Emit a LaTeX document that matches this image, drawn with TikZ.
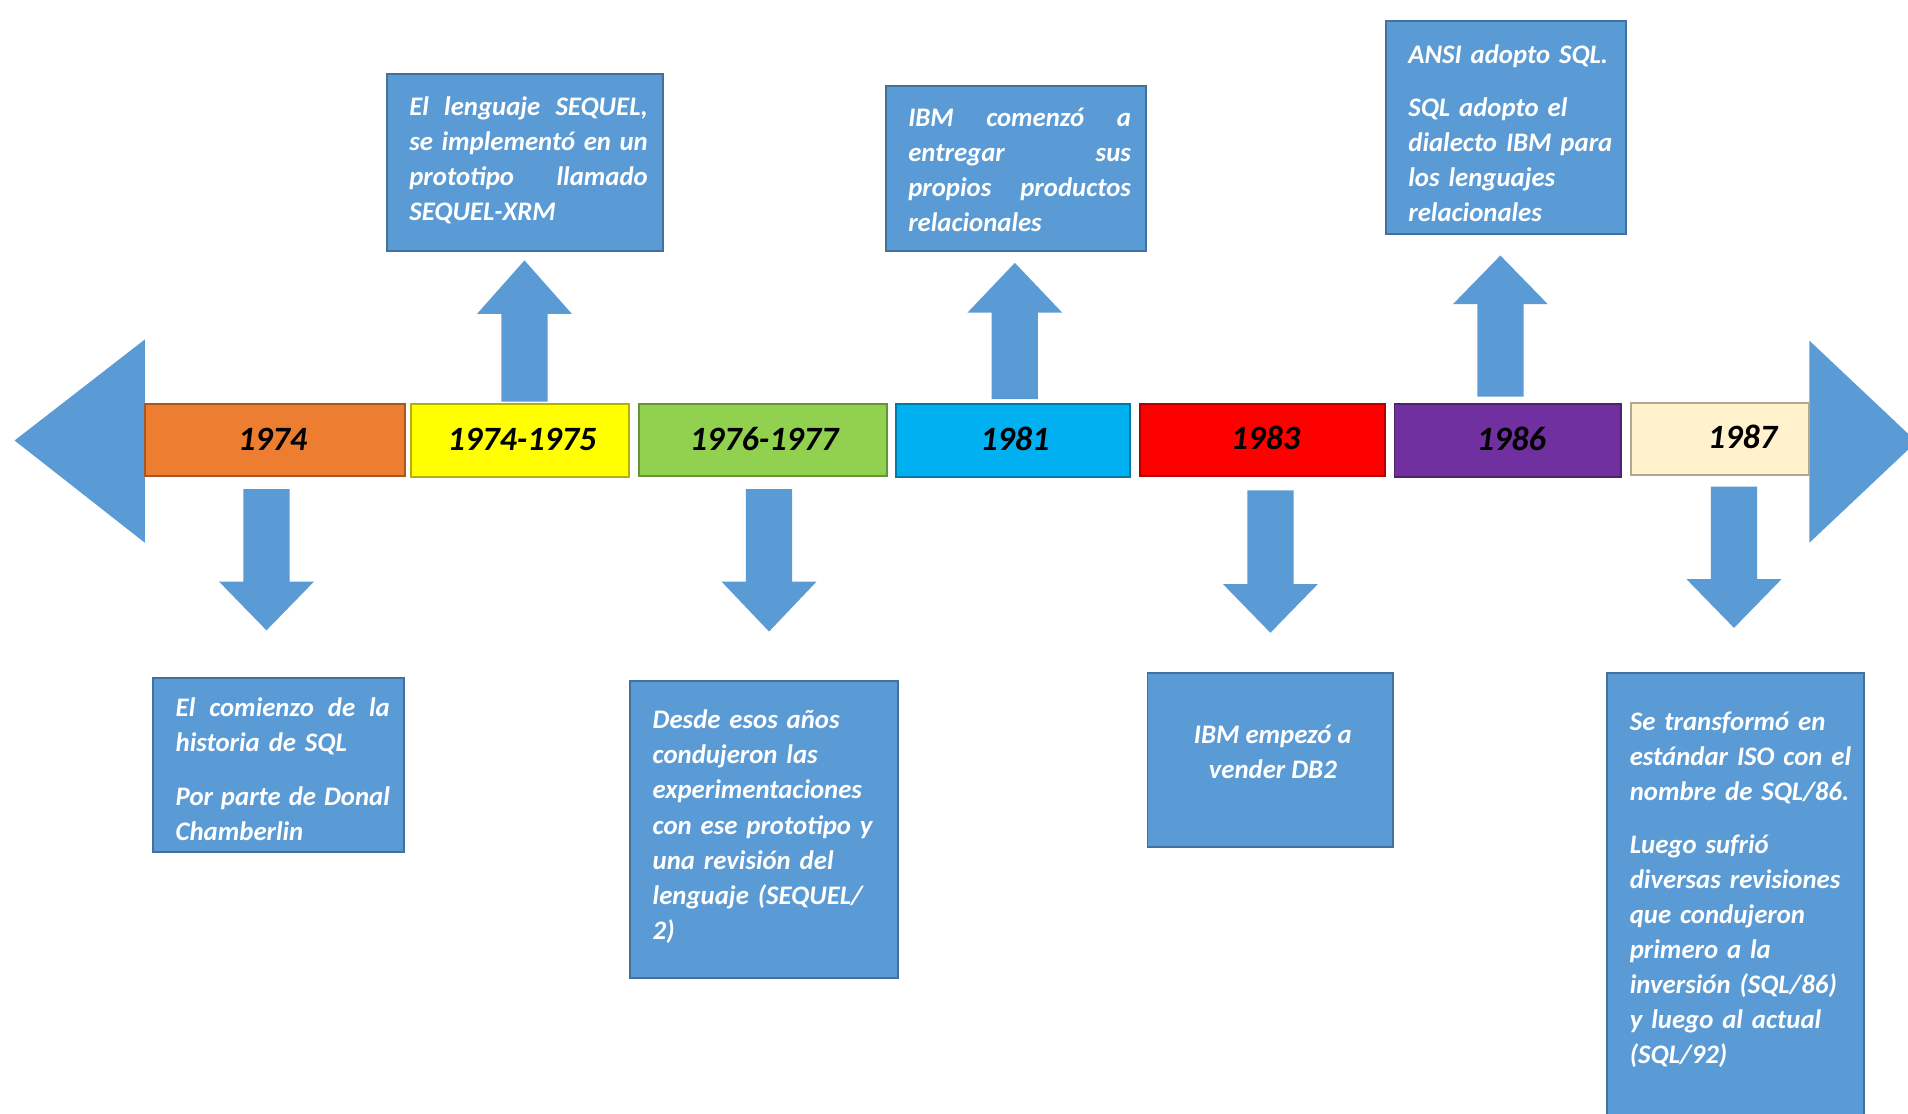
\documentclass[tikz,border=0pt]{standalone}
\usepackage{fontspec}
\setmainfont{Carlito}
\usetikzlibrary{fit}

\definecolor{boxblue}{HTML}{5B9BD5}
\definecolor{boxedge}{HTML}{41719C}
\definecolor{yOrange}{HTML}{ED7D31}
\definecolor{yYellow}{HTML}{FFFF00}
\definecolor{yGreen}{HTML}{92D050}
\definecolor{yCyan}{HTML}{00B0F0}
\definecolor{yRed}{HTML}{FF0000}
\definecolor{yPurple}{HTML}{7030A0}
\definecolor{yCream}{HTML}{FFF2CC}

% vertical block arrow: x centre, start y, head base y, tip y
\newcommand{\vblockarrow}[4]{%
  \fill[boxblue] (#1-19,#2) -- (#1-19,#3) -- (#1-39,#3) -- (#1,#4)
    -- (#1+39,#3) -- (#1+19,#3) -- (#1+19,#2) -- cycle;}

\tikzset{
  yearbox/.style={draw=#1!70!black, fill=#1, line width=0.8pt, inner sep=0pt},
  yeartext/.style={inner sep=0pt, font=\fontsize{14}{16}\selectfont\bfseries\itshape, text=black},
  descbox/.style={draw=boxedge, fill=boxblue, line width=0.8pt, inner sep=0pt},
  desctext/.style={inner sep=0pt, text=white, align=left,
    font=\fontsize{11}{14.4}\selectfont\bfseries\itshape},
}
% a line whose word spaces stretch to the given width
\newcommand{\jline}[2]{\leavevmode\hbox to #1{\spaceskip=\fontdimen2\font plus 1fil\relax #2}}

\begin{document}
\begin{tikzpicture}[x=0.5pt, y=-0.5pt]
\useasboundingbox (0,0) rectangle (1568,915);
\fill[white] (0,0) rectangle (1568,915);

% timeline ends
\fill[boxblue] (119,279) -- (12,362) -- (119,446) -- cycle;
\fill[boxblue] (1487,280) -- (1575,363) -- (1487,446) -- cycle;

% year segments
\node[yearbox=yOrange, fit={(119,332) (333,391)}] (s1974) {};
\node[yearbox=yYellow, fit={(338,332) (517,392)}] (s7475) {};
\node[yearbox=yGreen,  fit={(525,332) (729,391)}] (s7677) {};
\node[yearbox=yCyan,   fit={(736,332) (929,392)}] (s1981) {};
\node[yearbox=yRed,    fit={(937,332) (1138,391)}] (s1983) {};
\node[yearbox=yPurple, fit={(1146,332) (1332,392)}] (s1986) {};
\node[yearbox=yCream,  fit={(1340,331) (1487,390)}] (s1987) {};

\node[yeartext] (y1974) at (224,361) {1974};
\node[yeartext] (y7475) at (429,361) {1974-1975};
\node[yeartext] (y7677) at (628,361) {1976-1977};
\node[yeartext] (y1981) at (834,361) {1981};
\node[yeartext] (y1983) at (1040,360) {1983};
\node[yeartext] (y1986) at (1242,361) {1986};
\node[yeartext] (y1987) at (1432,359) {1987};

% block arrows towards the notes
\vblockarrow{431}{330}{258}{214}
\vblockarrow{834}{328}{257}{216}
\vblockarrow{1233}{326}{250}{210}
\vblockarrow{219}{402}{478}{518}
\vblockarrow{632}{402}{478}{519}
\vblockarrow{1044}{403}{480}{520}
\vblockarrow{1425}{400}{476}{516}

% notes above the timeline
\node[descbox, fit={(318,61) (545,206)}] (n7475) {};
\node[desctext, text width=98pt, anchor=base west] (t7475) at (336,95)
  {\jline{98pt}{El lenguaje SEQUEL,}\\\jline{98pt}{se implementó en un}\\\jline{98pt}{prototipo llamado}\\SEQUEL-XRM};

\node[descbox, fit={(728,71) (942,206)}] (n1981) {};
\node[desctext, text width=91.5pt, anchor=base west] (t1981) at (746,104)
  {\jline{91.5pt}{IBM comenzó a}\\\jline{91.5pt}{entregar sus}\\\jline{91.5pt}{propios productos}\\relacionales};

\node[descbox, fit={(1139,17) (1336,192)}] (n1986) {};
\node[desctext, text width=88pt, anchor=base west] (t1986) at (1157,52)
  {ANSI adopto SQL.\\[7.5pt]SQL adopto el\\dialecto IBM para\\los lenguajes\\relacionales};

% notes below the timeline
\node[descbox, fit={(126,557) (332,700)}] (n1974) {};
\node[desctext, text width=88pt, anchor=base west] (t1974) at (144,589)
  {\jline{88pt}{El comienzo de la}\\historia de SQL\\[7.5pt]\jline{88pt}{Por parte de Donal}\\Chamberlin};

\node[descbox, fit={(518,560) (738,804)}] (n7677) {};
\node[desctext, text width=95pt, anchor=base west] (t7677) at (536,599)
  {Desde esos años\\condujeron las\\experimentaciones\\con ese prototipo y\\una revisión del\\lenguaje (SEQUEL/\\2)};

\node[descbox, fit={(943,553) (1145,696)}] (n1983) {};
\node[desctext, align=center, anchor=base] (t1983) at (1046,640)
  {IBM empezó a\\vender DB2};

\node[descbox, fit={(1321,553) (1532,930)}] (n1987) {};
\node[desctext, text width=95pt, anchor=base west] (t1987) at (1339,600)
  {Se transformó en\\estándar ISO con el\\nombre de SQL/86.\\[7.5pt]Luego sufrió\\diversas revisiones\\que condujeron\\primero a la\\inversión (SQL/86)\\y luego al actual\\(SQL/92)};
\end{tikzpicture}
\end{document}
